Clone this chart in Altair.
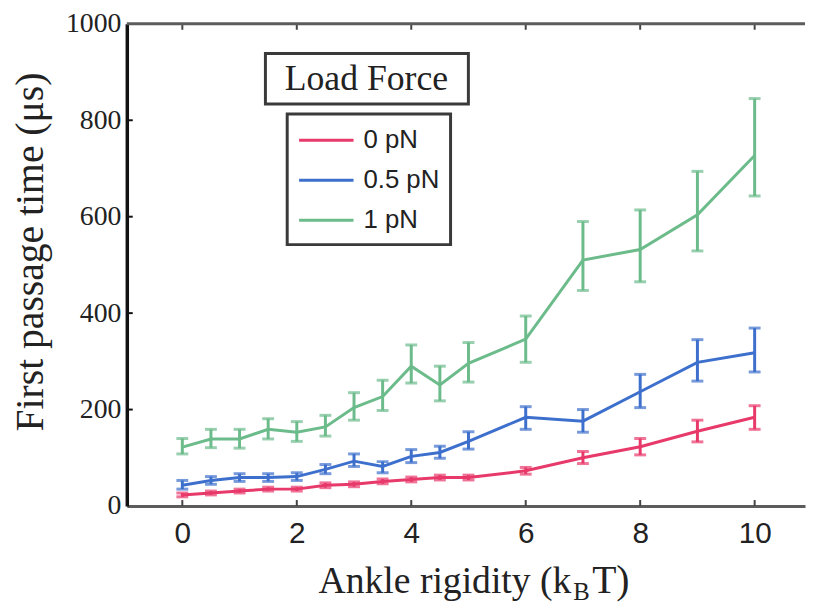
import altair as alt
import pandas as pd

# ---- data ----
ankle = [0, 0.5, 1, 1.5, 2, 2.5, 3, 3.5, 4, 4.5, 5, 6, 7, 8, 9, 10]
series_names = ["0 pN", "0.5 pN", "1 pN"]
series_colors = ["#e8396b", "#3d6fcc", "#6cbb8b"]

red_mean = [23, 27, 31, 35, 35, 43, 45, 51, 55, 59, 59, 73, 100, 123, 155, 184]
red_lo = [19, 23, 27, 31, 31, 38, 40, 46, 50, 54, 54, 66, 88, 106, 133, 159]
red_hi = [27, 31, 35, 39, 39, 48, 50, 56, 60, 64, 64, 80, 113, 140, 178, 208]

blue_mean = [43, 53, 59, 59, 61, 76, 93, 82, 103, 111, 134, 184, 176, 237, 298, 318]
blue_lo = [35, 45, 51, 51, 53, 67, 82, 69, 90, 99, 118, 159, 153, 204, 259, 278]
blue_hi = [53, 61, 67, 67, 69, 86, 108, 92, 117, 124, 154, 206, 200, 273, 345, 369]

green_mean = [122, 139, 139, 159, 153, 164, 204, 227, 290, 251, 296, 346, 510, 532, 604, 727]
green_lo = [108, 121, 120, 139, 134, 145, 178, 198, 255, 218, 257, 298, 447, 465, 529, 643]
green_hi = [140, 159, 159, 181, 175, 188, 235, 261, 334, 290, 339, 394, 590, 614, 694, 845]

x_tick_values = [0, 2, 4, 6, 8, 10]
y_tick_values = [0, 200, 400, 600, 800, 1000]

rows = []
for name, m, lo, hi in zip(series_names,
                           [red_mean, blue_mean, green_mean],
                           [red_lo, blue_lo, green_lo],
                           [red_hi, blue_hi, green_hi]):
    for xv, a, b, c in zip(ankle, m, lo, hi):
        rows.append({"x": xv, "series": name, "mean": a, "lo": b, "hi": c})
df = pd.DataFrame(rows)

W, H = 685, 487
SERIF = "Liberation Serif, Times New Roman, serif"
NARROW = "Liberation Sans Narrow, Arial Narrow, Liberation Sans, sans-serif"

xs = alt.Scale(domain=[-0.97, 10.88], nice=False, zero=False)
ys = alt.Scale(domain=[0, 1000], nice=False)

xaxis = alt.Axis(values=x_tick_values, title=None, grid=False, ticks=False, tickSize=0,
                 domainColor="#5c5c5c", domainWidth=3,
                 labelFont=NARROW, labelFontSize=30, labelColor="#222",
                 labelBaseline="alphabetic", labelPadding=37)
yaxis = alt.Axis(values=y_tick_values, format="d", title="First passage time (μs)",
                 grid=False, ticks=False, tickSize=0, domainColor="#111", domainWidth=3.5,
                 labelFont=SERIF, labelFontSize=28, labelColor="#222", labelPadding=6,
                 titleFont=SERIF, titleFontSize=40, titleFontWeight="normal",
                 titleColor="#222", titleAngle=270, titleBaseline="alphabetic",
                 titleX=-85, titleY=230, titleAlign="center")

color_scale = alt.Scale(domain=series_names, range=series_colors)
color = alt.Color("series:N", scale=color_scale, sort=series_names,
                  legend=alt.Legend(orient="none", legendX=162, legendY=91, title=None,
                                    strokeColor="#3a3a3a", fillColor="white",
                                    padding=11, rowPadding=11.5,
                                    symbolType="M-2,0L2,0", symbolSize=756,
                                    symbolStrokeWidth=3, symbolOffset=13,
                                    labelOffset=22,
                                    labelFont=NARROW, labelFontSize=26,
                                    labelColor="#222"))

X = alt.X("x:Q", scale=xs, axis=xaxis)

base = alt.Chart(df)
lines = base.mark_line(strokeWidth=3).encode(
    x=X,
    y=alt.Y("mean:Q", scale=ys, axis=yaxis),
    color=color,
)
bars = base.mark_errorbar(ticks=True, size=12, thickness=3).encode(
    x=X,
    y=alt.Y("lo:Q", scale=ys, axis=yaxis),
    y2="hi:Q",
    color=alt.Color("series:N", scale=color_scale, legend=None),
)

xt = pd.DataFrame({"v": x_tick_values})
yt = pd.DataFrame({"v": y_tick_values[1:-1]})
bottom_ticks = alt.Chart(xt).mark_rule(color="#444", strokeWidth=2).encode(
    x=alt.X("v:Q", scale=xs, axis=xaxis), y=alt.value(H), y2=alt.value(H - 6))
top_ticks = alt.Chart(xt).mark_rule(color="#444", strokeWidth=2).encode(
    x=alt.X("v:Q", scale=xs, axis=xaxis), y=alt.value(0), y2=alt.value(6))
left_ticks = alt.Chart(yt).mark_rule(color="#111", strokeWidth=2).encode(
    y=alt.Y("v:Q", scale=ys, axis=yaxis), x=alt.value(0), x2=alt.value(6))

one = pd.DataFrame({"k": [0]})
top_border = alt.Chart(one).mark_rule(color="#5c5c5c", strokeWidth=3).encode(
    x=alt.value(0), x2=alt.value(W), y=alt.value(0))

box = alt.Chart(one).mark_rect(fill="white", stroke="#3a3a3a", strokeWidth=3).encode(
    x=alt.value(140), x2=alt.value(345), y=alt.value(30), y2=alt.value(81))
box_text = alt.Chart(pd.DataFrame({"t": ["Load Force"]})).mark_text(
    font=SERIF, fontSize=36, color="#222", align="center", baseline="alphabetic").encode(
    text="t:N", x=alt.value(242), y=alt.value(67))

t1 = alt.Chart(pd.DataFrame({"t": ["Ankle rigidity (k"]})).mark_text(
    font=SERIF, fontSize=38, color="#222", align="right", baseline="alphabetic").encode(
    text="t:N", x=alt.value(449), y=alt.value(575))
t2 = alt.Chart(pd.DataFrame({"t": ["B"]})).mark_text(
    font=SERIF, fontSize=25, color="#222", align="left", baseline="alphabetic").encode(
    text="t:N", x=alt.value(451), y=alt.value(582))
t3 = alt.Chart(pd.DataFrame({"t": ["T)"]})).mark_text(
    font=SERIF, fontSize=40, color="#222", align="left", baseline="alphabetic").encode(
    text="t:N", x=alt.value(470), y=alt.value(575))

chart = alt.layer(
    lines, bars, bottom_ticks, top_ticks, left_ticks, top_border,
    box, box_text, t1, t2, t3
).properties(
    width=W, height=H,
    autosize=alt.AutoSizeParams(type="none"),
    padding={"left": 120, "top": 13, "right": 1, "bottom": 96},
).configure_view(stroke=None).configure_legend(strokeWidth=3)

chart.save("out.html", embed_options={"renderer": "svg", "actions": False})
